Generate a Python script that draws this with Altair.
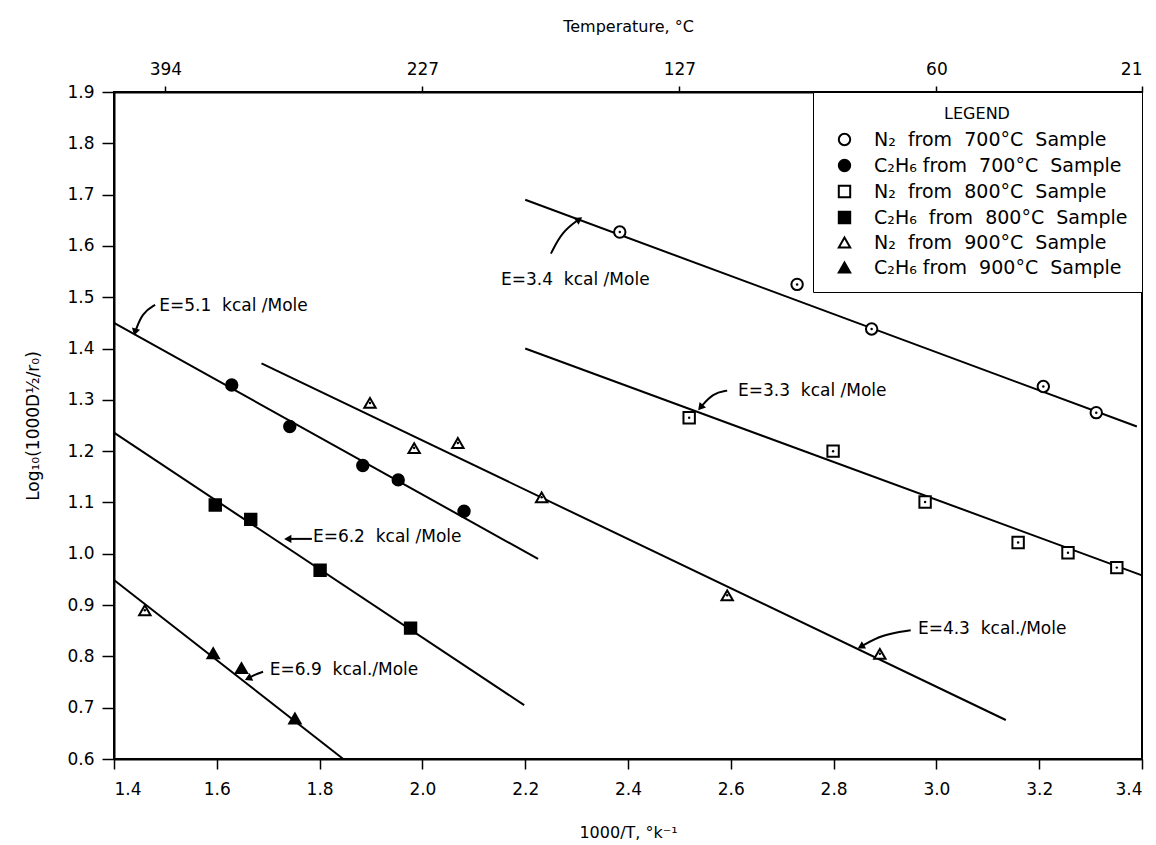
import altair as alt
import pandas as pd

FONT = "DejaVu Sans"
NB = "\u00a0"

# ---- series (legend order) ----
SERIES = [
    f"N₂{NB} from{NB} 700°C{NB} Sample",
    f"C₂H₆ from{NB} 700°C{NB} Sample",
    f"N₂{NB} from{NB} 800°C{NB} Sample",
    f"C₂H₆{NB} from{NB} 800°C{NB} Sample",
    f"N₂{NB} from{NB} 900°C{NB} Sample",
    f"C₂H₆ from{NB} 900°C{NB} Sample",
]
SHAPES = ["circle", "circle", "square", "square", "triangle-up", "triangle-up"]
FILLS = ["white", "black", "white", "black", "white", "black"]
STROKES = ["black"] * 6
OPEN_SERIES = [SERIES[0], SERIES[2], SERIES[4]]

N2_700_X = [2.384, 2.729, 2.874, 3.208, 3.311]
N2_700_Y = [1.627, 1.525, 1.438, 1.326, 1.275]
C2H6_700_X = [1.629, 1.742, 1.884, 1.953, 2.081]
C2H6_700_Y = [1.329, 1.248, 1.172, 1.144, 1.083]
N2_800_X = [2.519, 2.799, 2.978, 3.159, 3.256, 3.351]
N2_800_Y = [1.265, 1.200, 1.101, 1.022, 1.002, 0.973]
C2H6_800_X = [1.597, 1.666, 1.801, 1.977]
C2H6_800_Y = [1.095, 1.067, 0.968, 0.855]
N2_900_X = [1.460, 1.898, 1.984, 2.069, 2.232, 2.593, 2.890]
N2_900_Y = [0.890, 1.294, 1.206, 1.216, 1.110, 0.919, 0.805]
C2H6_900_X = [1.593, 1.648, 1.752]
C2H6_900_Y = [0.806, 0.777, 0.679]

SERIES_X = [N2_700_X, C2H6_700_X, N2_800_X, C2H6_800_X, N2_900_X, C2H6_900_X]
SERIES_Y = [N2_700_Y, C2H6_700_Y, N2_800_Y, C2H6_800_Y, N2_900_Y, C2H6_900_Y]

# ---- fitted lines (endpoints) ----
LINE_X0 = [2.200, 2.200, 1.400, 1.687, 1.400, 1.400]
LINE_Y0 = [1.690, 1.400, 1.450, 1.371, 1.236, 0.949]
LINE_X1 = [3.390, 3.400, 2.225, 3.135, 2.198, 1.846]
LINE_Y1 = [1.248, 0.958, 0.990, 0.676, 0.705, 0.600]

# ---- annotations ----
ANN_TEXT = [
    f"E=3.4{NB} kcal /Mole",
    f"E=5.1{NB} kcal /Mole",
    f"E=3.3{NB} kcal /Mole",
    f"E=6.2{NB} kcal /Mole",
    f"E=6.9{NB} kcal./Mole",
    f"E=4.3{NB} kcal./Mole",
]
ANN_X = [2.153, 1.488, 2.614, 1.787, 1.703, 2.964]
ANN_Y = [1.533, 1.483, 1.317, 1.033, 0.773, 0.853]

ARROW_X = [[2.250, 2.272, 2.305], [1.480, 1.455, 1.441], [2.593, 2.565, 2.541],
           [1.785, 1.760, 1.738], [1.690, 1.675, 1.661], [2.950, 2.895, 2.853]]
ARROW_Y = [[1.585, 1.628, 1.652], [1.485, 1.470, 1.432], [1.318, 1.313, 1.285],
           [1.029, 1.029, 1.029], [0.770, 0.765, 0.757], [0.851, 0.843, 0.819]]
ARROW_ANGLE = [55, 195, 220, 270, 245, 240]

# ---- axes ----
X_TICKS = [1.4, 1.6, 1.8, 2.0, 2.2, 2.4, 2.6, 2.8, 3.0, 3.2, 3.4]
Y_TICKS = [0.6, 0.7, 0.8, 0.9, 1.0, 1.1, 1.2, 1.3, 1.4, 1.5, 1.6, 1.7, 1.8, 1.9]
TOP_TICKS = [1.5, 2.0, 2.5, 3.0, 3.4]
TOP_LABELS = ["394", "227", "127", "60", "21"]

# ---- tables ----
pts = pd.DataFrame([
    {"series": s, "x": x, "y": y}
    for s, xs, ys in zip(SERIES, SERIES_X, SERIES_Y)
    for x, y in zip(xs, ys)
])
lines = pd.DataFrame(
    [{"lid": i, "x": LINE_X0[i], "y": LINE_Y0[i]} for i in range(len(LINE_X0))]
    + [{"lid": i, "x": LINE_X1[i], "y": LINE_Y1[i]} for i in range(len(LINE_X1))]
)
ann = pd.DataFrame({"text": ANN_TEXT, "x": ANN_X, "y": ANN_Y})
arrows = pd.DataFrame([
    {"aid": i, "k": k, "x": ARROW_X[i][k], "y": ARROW_Y[i][k]}
    for i in range(len(ARROW_X)) for k in range(3)
])
heads = pd.DataFrame({
    "x": [a[-1] for a in ARROW_X],
    "y": [a[-1] for a in ARROW_Y],
    "ang": ARROW_ANGLE,
})

xscale = alt.Scale(domain=[1.4, 3.4], nice=False, zero=False)
yscale = alt.Scale(domain=[0.6, 1.9], nice=False, zero=False)

top_expr = " : ".join(
    f"datum.value == {v} ? '{l}'" for v, l in zip(TOP_TICKS, TOP_LABELS)
) + " : ''"

bottom_axis = alt.Axis(orient="bottom", values=X_TICKS, format=".1f",
                       title="1000/T, °k⁻¹", tickSize=10, labelPadding=12,
                       titlePadding=27)
top_axis = alt.Axis(orient="top", values=TOP_TICKS, labelExpr=top_expr,
                    title="Temperature, °C", tickSize=6, labelPadding=8,
                    titlePadding=26)
left_axis = alt.Axis(orient="left", values=Y_TICKS, format=".1f",
                     title="Log₁₀(1000D½/r₀)", tickSize=12, labelPadding=8,
                     titlePadding=24, titleFontSize=17)

legend = alt.Legend(
    title="LEGEND", orient="top-right", offset=0, strokeColor="black",
    padding=14, titleFontSize=16, titleFontWeight="normal",
    titleAnchor="middle", titlePadding=8, titleFont=FONT,
    labelFontSize=19, labelFont=FONT, labelLimit=500, symbolSize=130,
    symbolStrokeWidth=2, rowPadding=5,
    labelOffset=20, symbolOffset=8, fillColor="white",
)

line_layer = alt.Chart(lines).mark_line(color="black", strokeWidth=2).encode(
    x=alt.X("x:Q", scale=xscale, axis=top_axis),
    y=alt.Y("y:Q", scale=yscale, axis=left_axis),
    detail="lid:N",
)

point_layer = alt.Chart(pts).mark_point(
    filled=True, strokeWidth=2, size=130, opacity=1
).encode(
    x=alt.X("x:Q", scale=xscale, axis=bottom_axis),
    y=alt.Y("y:Q", scale=yscale, axis=None),
    shape=alt.Shape("series:N", scale=alt.Scale(domain=SERIES, range=SHAPES),
                    legend=legend),
    fill=alt.Fill("series:N", scale=alt.Scale(domain=SERIES, range=FILLS),
                  legend=legend),
    stroke=alt.Stroke("series:N", scale=alt.Scale(domain=SERIES, range=STROKES),
                      legend=legend),
)

dot_layer = alt.Chart(pts).transform_filter(
    alt.FieldOneOfPredicate(field="series", oneOf=OPEN_SERIES)
).mark_point(filled=True, color="black", size=6, shape="circle", opacity=1).encode(
    x=alt.X("x:Q", scale=xscale, axis=None),
    y=alt.Y("y:Q", scale=yscale, axis=None),
)

arrow_layer = alt.Chart(arrows).mark_line(
    color="black", strokeWidth=2, interpolate="basis"
).encode(
    x=alt.X("x:Q", scale=xscale, axis=None),
    y=alt.Y("y:Q", scale=yscale, axis=None),
    detail="aid:N",
    order="k:Q",
)

head_layer = alt.Chart(heads).mark_point(
    shape="triangle-up", filled=True, color="black", size=70, opacity=1
).encode(
    x=alt.X("x:Q", scale=xscale, axis=None),
    y=alt.Y("y:Q", scale=yscale, axis=None),
    angle=alt.Angle("ang:Q", scale=None),
)

text_layer = alt.Chart(ann).mark_text(
    align="left", baseline="middle", fontSize=17, font=FONT, color="black"
).encode(
    x=alt.X("x:Q", scale=xscale, axis=None),
    y=alt.Y("y:Q", scale=yscale, axis=None),
    text="text:N",
)

chart = alt.layer(
    line_layer, arrow_layer, head_layer, point_layer, dot_layer, text_layer
).resolve_axis(x="independent", y="independent").properties(
    width=1028, height=667,
    autosize=alt.AutoSizeParams(type="none"),
    padding={"left": 106, "top": 84, "right": 2, "bottom": 84},
).configure_view(
    stroke="black", strokeWidth=2
).configure_axis(
    domainColor="black", domainWidth=2, tickColor="black", tickWidth=1.5,
    labelColor="black", titleColor="black", labelFont=FONT, titleFont=FONT,
    labelFontSize=17, titleFontSize=16, titleFontWeight="normal", grid=False,
)

chart.save("out.html", embed_options={"renderer": "svg", "actions": False})
